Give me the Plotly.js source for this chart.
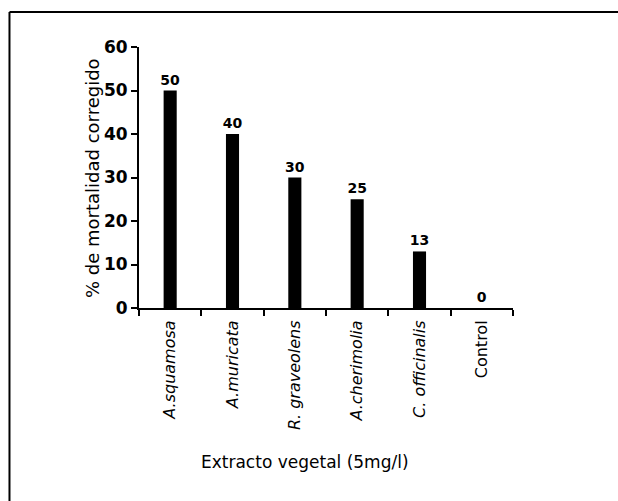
<!DOCTYPE html>
<html>
<head>
<meta charset="utf-8">
<script src="https://cdn.plot.ly/plotly-3.0.1.min.js"></script>
<style>html,body{margin:0;padding:0;background:#fff;}#chart{width:618px;height:501px;}</style>
</head>
<body>
<div id="chart"></div>
<script>
const categories = ["A.squamosa", "A.muricata", "R. graveolens", "A.cherimolia", "C. officinalis", "Control"];
const italicFlags = [true, true, true, true, true, false];
const mortality = [50, 40, 30, 25, 13, 0];
const valueLabels = ["50", "40", "30", "25", "13", "0"];
const yTicks = [0, 10, 20, 30, 40, 50, 60];
const yTitle = "% de mortalidad corregido";
const xTitle = "Extracto vegetal (5mg/l)";

const tickText = categories.map((c, i) => italicFlags[i] ? "<i>" + c + "</i>" : c);

const trace = {
  type: "bar",
  x: categories,
  y: mortality,
  text: valueLabels,
  textposition: "outside",
  constraintext: "none",
  cliponaxis: false,
  textfont: {family: "DejaVu Sans", size: 14, color: "#000", weight: "bold"},
  marker: {color: "#000", line: {width: 0}},
  hoverinfo: "none"
};

const layout = {
  width: 618, height: 501,
  margin: {l: 139, r: 105, t: 47, b: 193},
  paper_bgcolor: "#fff", plot_bgcolor: "#fff",
  bargap: 0.79,
  showlegend: false,
  font: {family: "DejaVu Sans", color: "#000"},
  xaxis: {
    type: "category",
    tickmode: "array",
    tickvals: categories,
    ticktext: tickText,
    tickangle: -90,
    tickson: "boundaries",
    ticks: "outside", ticklen: 6, tickwidth: 2, tickcolor: "#000",
    ticklabelstandoff: 4,
    showline: true, linecolor: "#000", linewidth: 2,
    showgrid: false, zeroline: false,
    tickfont: {family: "DejaVu Sans", size: 16, color: "#000"}
  },
  yaxis: {
    range: [0, 60],
    tickmode: "array", tickvals: yTicks,
    ticks: "outside", ticklen: 6, tickwidth: 2, tickcolor: "#000",
    showline: true, linecolor: "#000", linewidth: 2,
    showgrid: false, zeroline: false,
    tickfont: {family: "DejaVu Sans", size: 17, color: "#000", weight: "bold"}
  },
  annotations: [
    {text: yTitle, xref: "paper", yref: "paper", x: -0.1257, y: 0.498, textangle: -90,
     showarrow: false, xanchor: "center", yanchor: "middle",
     font: {family: "DejaVu Sans", size: 18, color: "#000"}},
    {text: xTitle, xref: "paper", yref: "paper", x: 0.444, y: -0.59,
     showarrow: false, xanchor: "center", yanchor: "middle",
     font: {family: "DejaVu Sans", size: 17, color: "#000"}}
  ],
  shapes: [
    {type: "line", xref: "paper", yref: "paper", x0: -0.3463, x1: -0.3463, y0: 1.134, y1: -0.8,
     line: {color: "#000", width: 2}},
    {type: "line", xref: "paper", yref: "paper", x0: -0.3463, x1: 1.3, y0: 1.134, y1: 1.134,
     line: {color: "#000", width: 2}}
  ]
};

Plotly.newPlot("chart", [trace], layout, {staticPlot: true, displayModeBar: false});
</script>
</body>
</html>
